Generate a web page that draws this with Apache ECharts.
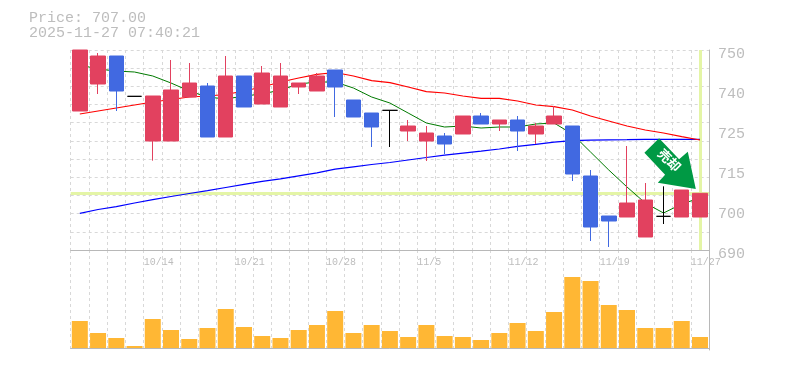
<!DOCTYPE html>
<html><head><meta charset="utf-8">
<style>html,body{margin:0;padding:0;background:#fff}#c{width:785px;height:370px}</style>
<script src="https://cdn.jsdelivr.net/npm/echarts@6/dist/echarts.min.js"></script>
</head><body><div id="c"></div>
<script>
const categories=['10/7','10/8','10/9','10/10','10/14','10/15','10/16','10/17','10/20','10/21','10/22','10/23','10/24','10/27','10/28','10/29','10/30','10/31','11/4','11/5','11/6','11/7','11/10','11/11','11/12','11/13','11/14','11/17','11/18','11/19','11/20','11/21','11/25','11/26','11/27'];
const shownDates=['10/14','10/21','10/28','11/5','11/12','11/19','11/27'];
const openV=[731.7,739.8,748.2,736.1,722.7,722.7,735.9,739.2,723.9,742.2,733.8,732.9,738.9,737.7,744,735,731.1,731.9,725.7,722.7,724.2,724.8,730.2,727.8,729,724.8,727.8,727.2,712.2,700.2,699.9,693.9,700.1,699.9,699.9];
const closeV=[750,748.2,737.7,736.1,736.2,738,740.1,723.9,742.2,732.9,743.1,742.2,740.1,742.2,738.9,729.9,726.9,731.9,727.2,725.1,721.8,730.2,727.8,729,725.7,727.2,730.2,712.8,696.9,698.7,704.1,705,700.1,708,707];
const lowV=[731.7,736.8,731.7,736.1,716.8,722.7,735.9,723.9,723.9,732.9,733.8,732.9,736.8,737.7,729.9,729.9,720.9,720.9,722.7,716.7,718.8,724.8,727.8,725.7,719.7,721.8,727.8,710.7,692.7,690.9,699.9,693.9,697.8,699.9,699.9];
const highV=[750,749.1,748.2,736.1,736.2,747,746.1,740.1,748.2,742.2,745.2,746.1,740.1,743.1,744,735,731.1,731.9,729,727.2,725.1,730.2,731.1,729,730.2,728.1,733.2,727.2,714,700.2,721.2,710.1,709.1,708,707];
const maShort=[745.5,744.3,743.7,743.4,742.2,740.1,737.7,735.9,735.3,736.2,736.8,738,739.8,740.4,740.4,738.6,735.9,734.1,731.1,728.1,726.9,727.2,726.6,726.9,726.9,727.8,728.1,724.8,719.4,714,708.9,704.1,701.1,703.8,705.6];
const maMid=[730.8,731.7,732.6,733.5,734.4,735.15,735.9,736.2,736.65,737.7,738.9,740.4,741.6,742.7,743.25,742.2,740.8,740.2,738.9,737.5,737.1,736.2,735.5,735.5,734.7,733.5,733,732,730.2,728.7,727.2,726,725.1,724,723];
const maLong=[701,702.15,703,704.1,705.1,706.05,706.95,707.8,708.75,709.7,710.6,711.35,712.25,713.15,714.25,714.95,715.65,716.25,717,717.75,718.45,719.05,719.65,720.3,721.1,721.7,722.35,722.8,722.95,723.05,723.1,723.2,723.2,723.2,723.2];
const volume=[27,15,10,2,29,18,9,20,39,21,12,10,18,23,37,15,23,17,11,23,12,11,8,15,25,17,36,71,67,43,38,20,20,27,11];
const priceTicks=[690,702,714,726,738,750];
const priceTickLabels=['690','700','715','725','740','750'];
const gridValues=[690,695.4545,700.9091,706.3636,711.8182,717.2727,722.7273,728.1818,733.6364,739.0909,744.5455,750];
const lastPrice=707;
const lastDate='11/27';
const arrowDate='11/25';
const priceText='Price: 707.00';
const timeText='2025-11-27 07:40:21';

const MONO='"Liberation Mono",monospace';
const AX='#b8b8b8', GR='#d8d8d8', TX='#bdbdbd';
const dash={show:true,lineStyle:{color:GR,width:1,type:[3,3]}};
const arrow='path://M644.3 152.7L659 138.3L679 159.3L687.7 151.7L695.7 189L657.7 182.7L665 174.7Z';

const chart=echarts.init(document.getElementById('c'),null,{renderer:'canvas'});
chart.setOption({
 animation:false,
 backgroundColor:'#fff',
 title:{text:priceText+'\n'+timeText,left:29,top:11,padding:0,
  textStyle:{fontFamily:MONO,fontSize:15,fontWeight:'normal',color:TX,lineHeight:15}},
 grid:[{left:70.7,width:638.4,top:50,height:200},{left:70.7,width:638.4,top:250,height:100}],
 xAxis:[
  {type:'category',gridIndex:0,data:categories,boundaryGap:true,
   axisLine:{show:true,lineStyle:{color:AX,width:1}},axisTick:{show:false},axisLabel:{show:false},
   splitLine:Object.assign({interval:0},dash)},
  {type:'category',gridIndex:1,data:categories,boundaryGap:true,
   axisLine:{show:true,lineStyle:{color:AX,width:1}},axisTick:{show:false},axisLabel:{show:false},
   splitLine:Object.assign({interval:0},dash)},
  {type:'category',gridIndex:0,position:'bottom',boundaryGap:false,
   data:categories.map(d=>shownDates.includes(d)?d:'').concat(['']),
   axisLine:{show:false},axisTick:{show:false},splitLine:{show:false},
   axisLabel:{show:true,interval:0,align:'left',margin:7,hideOverlap:false,showMinLabel:true,showMaxLabel:true,
    fontFamily:MONO,fontSize:10,color:TX}}
 ],
 yAxis:[
  {type:'value',gridIndex:0,position:'right',min:690,max:750,scale:true,
   axisLine:{show:true,lineStyle:{color:AX,width:1}},
   axisTick:{show:false,customValues:gridValues},
   splitLine:dash,
   axisLabel:{show:true,customValues:priceTicks,margin:9,verticalAlign:'top',lineHeight:8,hideOverlap:false,fontFamily:MONO,fontSize:15,color:TX,
    formatter:v=>priceTickLabels[priceTicks.indexOf(Math.round(v))]}},
  {type:'value',gridIndex:1,position:'right',min:-2,max:98,
   axisLine:{show:true,lineStyle:{color:AX,width:1}},axisTick:{show:false},axisLabel:{show:false},splitLine:{show:false}}
 ],
 series:[
  {name:'guide',type:'line',xAxisIndex:0,yAxisIndex:0,data:[],z:1,silent:true,symbol:'none',
   markLine:{silent:true,symbol:'none',z:1,label:{show:false},animation:false,
    lineStyle:{color:'#e4f5a6',width:3,type:'solid'},
    data:[{yAxis:lastPrice},{xAxis:lastDate}]}},
  {name:'long',type:'line',xAxisIndex:0,yAxisIndex:0,data:maLong,z:2,symbol:'none',lineStyle:{color:'#0000ff',width:1.2}},
  {name:'mid',type:'line',xAxisIndex:0,yAxisIndex:0,data:maMid,z:2,symbol:'none',lineStyle:{color:'#ff0000',width:1.2}},
  {name:'short',type:'line',xAxisIndex:0,yAxisIndex:0,data:maShort,z:2,symbol:'none',lineStyle:{color:'#007a00',width:1}},
  {name:'candle',type:'candlestick',xAxisIndex:0,yAxisIndex:0,z:3,barWidth:15,clip:true,
   data:categories.map((_,i)=>[openV[i],closeV[i],lowV[i],highV[i]]),
   itemStyle:{color:'#e2415f',color0:'#4169e1',borderColor:'#e2415f',borderColor0:'#4169e1',borderColorDoji:'#000',borderWidth:1},
   markPoint:{silent:true,z:6,animation:false,
    data:[{coord:[arrowDate,715.9],symbol:arrow,symbolSize:[51.4,50.7],symbolOffset:[6.6,0],symbolKeepAspect:false,
     itemStyle:{color:'#009944'},
     label:{show:true,position:'inside',formatter:'売却',rotate:-45,offset:[-3,-2],fontFamily:'"Noto Sans CJK JP"',fontSize:13,fontWeight:'bold',color:'#fff'}}]}},
  {name:'volume',type:'bar',xAxisIndex:1,yAxisIndex:1,data:volume,barWidth:16,itemStyle:{color:'#ffb734'},z:3}
 ]
});
</script></body></html>
